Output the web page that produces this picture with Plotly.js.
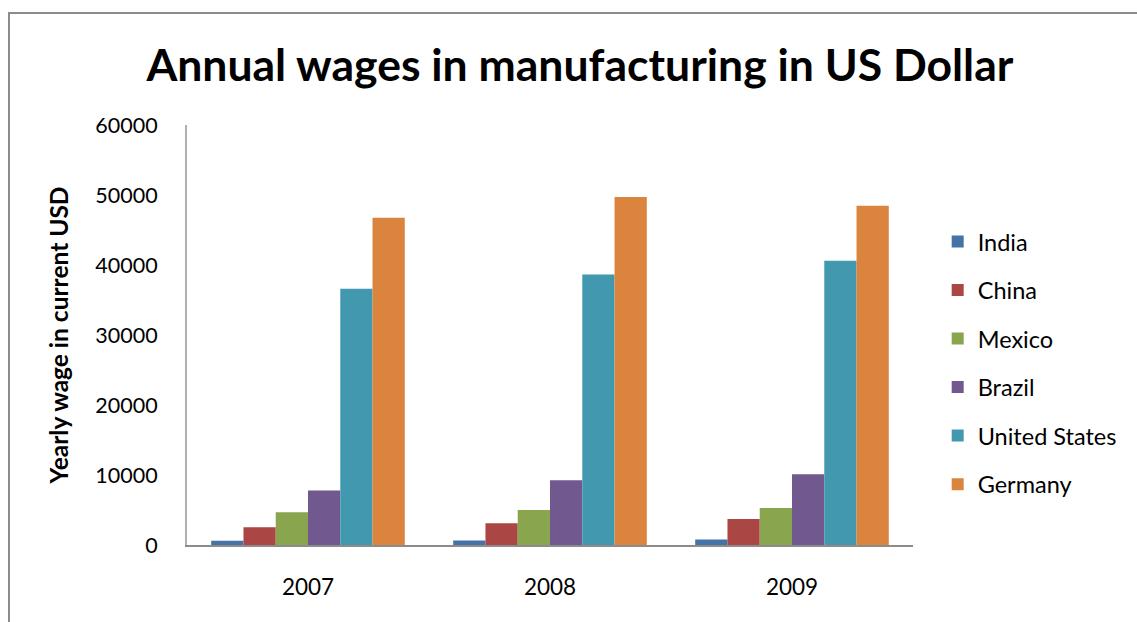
<!DOCTYPE html>
<html>
<head>
<meta charset="utf-8">
<script src="https://cdn.plot.ly/plotly-3.0.1.min.js"></script>
<style>
  html, body { margin: 0; padding: 0; background: #fff; overflow: hidden; }
  #frame { position: absolute; left: 8px; top: 12px; width: 1150px; height: 640px;
           border: 2px solid #8c8c8c; box-sizing: border-box; }
  #chart { position: absolute; left: 0; top: 0; width: 1137px; height: 622px; }
</style>
</head>
<body>
<div id="frame"></div>
<div id="chart"></div>
<script>
// Annual manufacturing wages by country, current USD
const years = ['2007', '2008', '2009'];
const countries = ['India', 'China', 'Mexico', 'Brazil', 'United States', 'Germany'];
const india        = [600, 650, 770];
const china        = [2520, 3100, 3720];
const mexico       = [4670, 5000, 5300];
const brazil       = [7780, 9260, 10120];
const unitedStates = [36600, 38650, 40600];
const germany      = [46750, 49700, 48450];
const colors = ['#4572A7', '#AA4643', '#89A54E', '#71588F', '#4198AF', '#DB843D'];
const yTicks = [0, 10000, 20000, 30000, 40000, 50000, 60000];

const series = [india, china, mexico, brazil, unitedStates, germany];
const font = 'Lato, Calibri, "Open Sans", sans-serif';

const traces = series.map((vals, i) => ({
  type: 'bar',
  name: countries[i],
  x: years,
  y: vals,
  legendgroup: 'g' + i,
  marker: { color: colors[i], line: { width: 0 } },
  hoverinfo: 'x+y+name'
}));

const layout = {
  width: 1137,
  height: 622,
  paper_bgcolor: 'rgba(0,0,0,0)',
  plot_bgcolor: 'rgba(0,0,0,0)',
  margin: { l: 187, r: 224, t: 125, b: 77 },
  bargap: 0.2,
  bargroupgap: 0,
  title: {
    text: '<b>Annual wages in manufacturing in US Dollar</b>',
    font: { family: font, size: 44.5, color: '#000' },
    x: 0.51, xanchor: 'center',
    y: 0.895, yanchor: 'middle'
  },
  xaxis: {
    type: 'category',
    showline: true, linecolor: '#8c8c8c', linewidth: 2,
    showgrid: false, zeroline: false,
    ticks: '',
    ticklabelstandoff: 21,
    tickfont: { family: font, size: 22.5, color: '#000' }
  },
  yaxis: {
    range: [0, 60000],
    tickvals: yTicks,
    ticktext: yTicks.map(String),
    showline: true, linecolor: '#b0b0b0', linewidth: 2,
    showgrid: false, zeroline: false,
    ticks: '',
    ticklabelstandoff: 23,
    tickfont: { family: font, size: 21.5, color: '#000' },
    title: {
      text: '<b>Yearly wage in current USD</b>',
      font: { family: font, size: 24.5, color: '#000' },
      standoff: 20
    }
  },
  showlegend: true,
  legend: {
    x: 1.034, xanchor: 'left',
    y: 0.433, yanchor: 'middle',
    traceorder: 'grouped',
    tracegroupgap: 15,
    font: { family: font, size: 23.5, color: '#000' },
    itemwidth: 30,
    bgcolor: 'rgba(0,0,0,0)'
  }
};

Plotly.newPlot('chart', traces, layout, { displayModeBar: false, staticPlot: true });
</script>
</body>
</html>
